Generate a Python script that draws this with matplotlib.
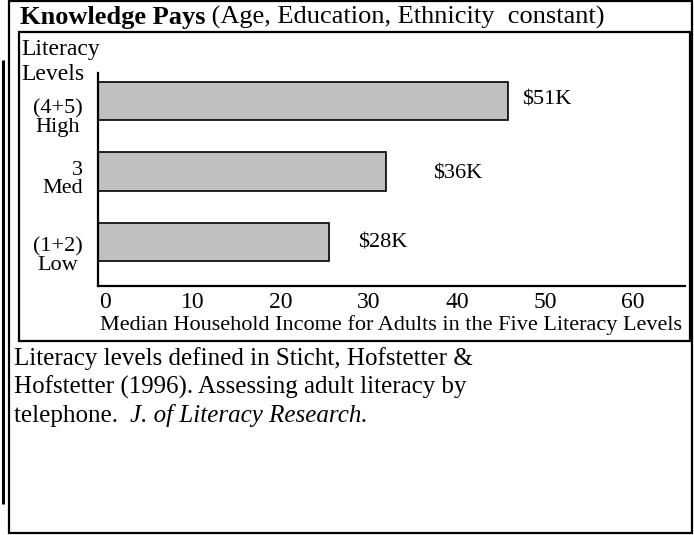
import matplotlib
matplotlib.use("Agg")
import matplotlib.pyplot as plt
import matplotlib.transforms as mtransforms
from matplotlib.patches import Rectangle

plt.rcParams['font.family'] = ['Liberation Serif', 'DejaVu Serif']

# ---------------- data ----------------
categories = ["(1+2)\nLow", "3\nMed", "(4+5)\nHigh"]
income_k = [26.3, 32.7, 46.6]
value_labels = ["$28K", "$36K", "$51K"]
x_ticks = [0, 10, 20, 30, 40, 50, 60]
title_bold = "Knowledge Pays"
title_rest = " (Age, Education, Ethnicity  constant)"
y_title = "Literacy\nLevels"
x_title = "Median Household Income for Adults in the Five Literacy Levels"
note_lines = ["Literacy levels defined in Sticht, Hofstetter &",
              "Hofstetter (1996). Assessing adult literacy by",
              "telephone.  "]
note_italic = "J. of Literacy Research."

# ---------------- layout ----------------
W, H, DPI = 694, 535, 100
fig = plt.figure(figsize=(W / DPI, H / DPI), dpi=DPI)
fig.patch.set_facecolor("white")

ov = fig.add_axes([0, 0, 1, 1], zorder=0)
ov.set_xlim(0, W)
ov.set_ylim(H, 0)
ov.axis("off")

def px_rect(x0, y0, x1, y1, lw):
    ov.add_patch(Rectangle((x0, y0), x1 - x0, y1 - y0, fill=False,
                           edgecolor="black", linewidth=lw))

px_rect(9, 1, 692, 533, 1.6)      # outer frame
px_rect(19, 32, 690, 341, 1.6)    # inner chart box
ov.plot([3, 3], [60, 504], color="black", linewidth=2.2, solid_capstyle="butt")

axl, axr, axt, axb = 98, 685, 73, 286
ax = fig.add_axes([axl / W, 1 - axb / H, (axr - axl) / W, (axb - axt) / H], zorder=1)
ax.patch.set_alpha(0)
ypos = list(range(len(categories)))
ax.barh(ypos, income_k, height=0.54, color="#c0c0c0", edgecolor="black",
        linewidth=1.2, zorder=2)
ax.set_xlim(0, (axr - axl) / 8.8)
ax.set_ylim(-0.624, 2.397)
for s in ["top", "right"]:
    ax.spines[s].set_visible(False)
for s in ["left", "bottom"]:
    ax.spines[s].set_linewidth(1.6)

ax.set_xticks(x_ticks)
ax.set_xticklabels([str(t) for t in x_ticks], fontsize=17)
ax.tick_params(axis="x", length=0, pad=4.5)
shift_x = mtransforms.ScaledTranslation(7 / DPI, 0, fig.dpi_scale_trans)
for lab in ax.get_xticklabels():
    lab.set_transform(lab.get_transform() + shift_x)

ax.set_yticks(ypos)
ax.set_yticklabels(categories, fontsize=16, linespacing=0.95)
ax.tick_params(axis="y", length=0, pad=11)
ylab_dy = [-12, -6, -15]
ylab_align = ["center", "right", "center"]
for lab, dy, al in zip(ax.get_yticklabels(), ylab_dy, ylab_align):
    lab.set_multialignment(al)
    lab.set_transform(lab.get_transform() +
                      mtransforms.ScaledTranslation(0, dy / DPI, fig.dpi_scale_trans))

ax.set_xlabel(x_title, fontsize=16, labelpad=1)

val_dx = [29, 47, 14]
val_dy = [-1, -3, 1]
for y, v, t, dx, dy in zip(ypos, income_k, value_labels, val_dx, val_dy):
    ax.annotate(t, xy=(v, y), xytext=(dx * 72 / DPI, dy * 72 / DPI),
                textcoords="offset points", va="center", ha="left", fontsize=16)

ov.text(21, 62, y_title, fontsize=17, va="center", ha="left", linespacing=1.2)

tb = ov.text(20, 24, title_bold, fontsize=19, fontweight="bold", va="baseline", ha="left")
fig.canvas.draw()
r = fig.canvas.get_renderer()
bb = tb.get_window_extent(r)
x_after = ov.transData.inverted().transform((bb.x1, 0))[0]
ov.text(x_after, 24, title_rest, fontsize=19, va="baseline", ha="left")

ys = [365, 394, 422]
last = None
for y, line in zip(ys, note_lines):
    last = ov.text(14, y, line, fontsize=18, va="baseline", ha="left")
fig.canvas.draw()
bb = last.get_window_extent(r)
x_after = ov.transData.inverted().transform((bb.x1, 0))[0]
ov.text(x_after, ys[-1], note_italic, fontsize=18, style="italic", va="baseline", ha="left")

fig.savefig("out.png", dpi=DPI, facecolor="white")
